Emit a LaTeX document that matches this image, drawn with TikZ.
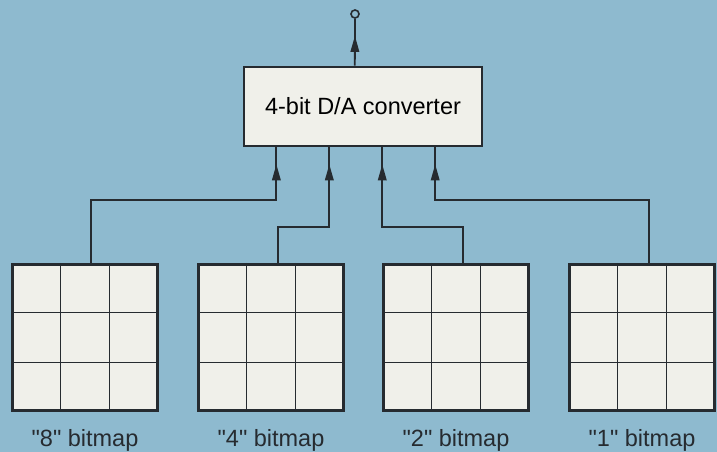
\documentclass[tikz,border=0pt]{standalone}
\usepackage{fontspec}
\setmainfont{Liberation Sans}
\usetikzlibrary{arrows.meta,positioning,calc,decorations.markings}
\definecolor{plateblue}{HTML}{8EBACF}
\definecolor{paperfill}{HTML}{F0F0EA}
\definecolor{inkdark}{HTML}{262B30}

\begin{document}
\begin{tikzpicture}[
  x=1pt, y=1pt,
  font=\fontsize{23.5}{26}\selectfont,
  converter/.style={
    draw=inkdark,
    fill=paperfill,
    line width=2.6pt,
    minimum width=238pt,
    minimum height=79pt,
    inner sep=0pt
  },
  bitmap/.style={
    draw=inkdark,
    fill=paperfill,
    line width=3pt,
    minimum width=145pt,
    minimum height=146pt,
    inner sep=0pt
  },
  gridline/.style={
    draw=inkdark,
    line width=1.6pt
  },
  terminal/.style={
    circle,
    draw=inkdark,
    fill=plateblue,
    line width=1.6pt,
    minimum size=8pt,
    inner sep=0pt
  },
  wire/.style={
    draw=inkdark,
    line width=1.8pt,
    postaction={decorate},
    decoration={markings,
      mark=at position -17pt with {\arrow{Triangle[length=16pt,width=8.5pt]}}}
  },
  caption/.style={
    inner sep=0pt,
    text=inkdark
  }
]

  % Background plate
  \fill[plateblue] (0,0) rectangle (717,452);
  \useasboundingbox (0,0) rectangle (717,452);

  % --- D/A converter and output pin ---
  \node[converter] (dac) at (363,345.5) {4-bit D/A converter};
  \node[terminal] (outpin) at (355,438) {};

  \coordinate (out) at ($(dac.north west)!0.466!(dac.north east)$);
  \coordinate (in1) at ($(dac.south west)!0.14!(dac.south east)$);
  \coordinate (in2) at ($(dac.south west)!0.36!(dac.south east)$);
  \coordinate (in3) at ($(dac.south west)!0.58!(dac.south east)$);
  \coordinate (in4) at ($(dac.south west)!0.80!(dac.south east)$);

  % --- BITMAP ROW ---
  \node[bitmap] (bm8) at (85,114.5) {};
  \node[bitmap] (bm4) at (271,114.5) {};
  \node[bitmap] (bm2) at (456,114.5) {};
  \node[bitmap] (bm1) at (642,114.5) {};

  % 3x3 cells in every bitmap
  \foreach \bm in {bm8,bm4,bm2,bm1} {
    \foreach \f in {1/3,2/3} {
      \draw[gridline] ($(\bm.north west)!\f!(\bm.north east)$) -- ($(\bm.south west)!\f!(\bm.south east)$);
      \draw[gridline] ($(\bm.north west)!\f!(\bm.south west)$) -- ($(\bm.north east)!\f!(\bm.south east)$);
    }
  }

  % Captions
  \node[caption, anchor=base] (cap8) at (bm8.south |- 0,5) {\textquotedbl 8\textquotedbl{} bitmap};
  \node[caption, anchor=base] (cap4) at (bm4.south |- 0,5) {\textquotedbl 4\textquotedbl{} bitmap};
  \node[caption, anchor=base] (cap2) at (bm2.south |- 0,5) {\textquotedbl 2\textquotedbl{} bitmap};
  \node[caption, anchor=base] (cap1) at (bm1.south |- 0,5) {\textquotedbl 1\textquotedbl{} bitmap};

  % Connecting wires
  \coordinate (t8) at ($(bm8.north)+(6,0)$);
  \coordinate (t4) at ($(bm4.north)+(7,0)$);
  \coordinate (t2) at ($(bm2.north)+(7,0)$);
  \coordinate (t1) at ($(bm1.north)+(7,0)$);

  \draw[wire] (t8) |- ($(in1)+(0,-53)$) -- (in1);
  \draw[wire] (t4) |- ($(in2)+(0,-80)$) -- (in2);
  \draw[wire] (t2) |- ($(in3)+(0,-80)$) -- (in3);
  \draw[wire] (t1) |- ($(in4)+(0,-53)$) -- (in4);
  \draw[wire] (out) -- (outpin.south);

\end{tikzpicture}
\end{document}
